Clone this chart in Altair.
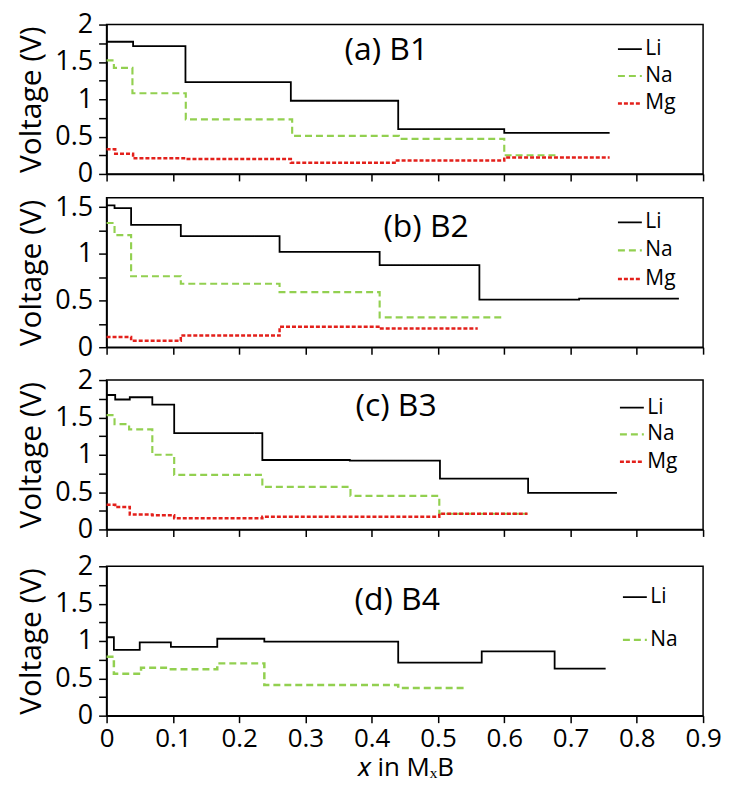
import altair as alt
import pandas as pd

FONT = "Open Sans"
SERIES = ["Li", "Na", "Mg"]
COLORS = {"Li": "#000000", "Na": "#92D050", "Mg": "#E3201B"}
DASHES = {"Li": [1, 0], "Na": [7, 4], "Mg": [4, 2]}
WIDTHS = {"Li": 1.8, "Na": 2.5, "Mg": 1.8}

X_TICKS = [0, 0.1, 0.2, 0.3, 0.4, 0.5, 0.6, 0.7, 0.8, 0.9]

# ---- (a) B1 ----
a_li_x = [0, 0.040, 0.119, 0.278, 0.440, 0.600, 0.759]
a_li_y = [1.77, 1.71, 1.23, 0.98, 0.60, 0.55, 0.55]
a_na_x = [0, 0.011, 0.039, 0.1195, 0.280, 0.441, 0.600, 0.678]
a_na_y = [1.52, 1.42, 1.08, 0.73, 0.51, 0.47, 0.25, 0.25]
a_mg_x = [0, 0.013, 0.040, 0.119, 0.278, 0.438, 0.600, 0.759]
a_mg_y = [0.33, 0.27, 0.21, 0.20, 0.15, 0.18, 0.22, 0.22]

# ---- (b) B2 ----
b_li_x = [0, 0.012, 0.037, 0.112, 0.261, 0.412, 0.5625, 0.713, 0.8635]
b_li_y = [1.52, 1.49, 1.31, 1.19, 1.02, 0.88, 0.51, 0.52, 0.52]
b_na_x = [0, 0.012, 0.037, 0.112, 0.261, 0.412, 0.597]
b_na_y = [1.33, 1.20, 0.76, 0.68, 0.59, 0.32, 0.32]
b_mg_x = [0, 0.037, 0.112, 0.261, 0.412, 0.560]
b_mg_y = [0.11, 0.07, 0.125, 0.22, 0.20, 0.20]

# ---- (c) B3 ----
c_li_x = [0, 0.013, 0.035, 0.069, 0.102, 0.235, 0.367, 0.503, 0.636, 0.770]
c_li_y = [1.80, 1.74, 1.77, 1.67, 1.29, 0.93, 0.92, 0.68, 0.49, 0.49]
c_na_x = [0, 0.012, 0.034, 0.069, 0.102, 0.235, 0.368, 0.502, 0.635]
c_na_y = [1.53, 1.41, 1.34, 1.00, 0.73, 0.57, 0.45, 0.21, 0.21]
c_mg_x = [0, 0.013, 0.035, 0.069, 0.102, 0.235, 0.502, 0.635]
c_mg_y = [0.33, 0.30, 0.20, 0.19, 0.15, 0.17, 0.21, 0.21]

# ---- (d) B4 ----
d_li_x = [0, 0.011, 0.050, 0.097, 0.167, 0.238, 0.440, 0.566, 0.676, 0.753]
d_li_y = [1.05, 0.88, 0.98, 0.92, 1.03, 0.99, 0.71, 0.86, 0.63, 0.63]
d_na_x = [0, 0.011, 0.052, 0.097, 0.167, 0.238, 0.440, 0.544]
d_na_y = [0.79, 0.56, 0.64, 0.62, 0.70, 0.41, 0.37, 0.37]

Y_TICKS_2 = [0, 0.25, 0.5, 0.75, 1, 1.25, 1.5, 1.75, 2]
Y_TICKS_16 = [0, 0.25, 0.5, 0.75, 1, 1.25, 1.5]

W, H = 599, 150


def frame(series):
    rows = []
    for name, xs, ys in series:
        for i, (x, y) in enumerate(zip(xs, ys)):
            rows.append({"x": x, "v": y, "s": name, "o": i})
    return pd.DataFrame(rows)


def panel(series, title, ymax, yticks, lx, ly, rowpad, tx, ty, bottom):
    df = frame(series)
    present = [s for s in SERIES if s in set(df["s"])]
    leg = alt.Legend(
        orient="none", legendX=lx, legendY=ly, title=None,
        symbolType="stroke", symbolSize=576, symbolStrokeWidth=2,
        labelFont=FONT, labelFontSize=21, labelColor="black",
        labelOffset=2, rowPadding=rowpad, padding=0,
    )
    if bottom:
        xaxis = alt.Axis(values=X_TICKS, labelExpr="'' + datum.value",
                         title="𝑥 in MₓB", tickSize=7, grid=False, labelFlush=False,
                         labelFontSize=26, labelPadding=3, titlePadding=3,
                         titleFontSize=26)
    else:
        xaxis = alt.Axis(values=X_TICKS, labels=False, title=None,
                         tickSize=7, grid=False)
    yaxis = alt.Axis(values=yticks,
                     labelExpr="datum.value % 0.5 == 0 ? '' + datum.value : ''",
                     title="Voltage (V)", tickSize=8, grid=False,
                     labelPadding=6, titlePadding=8)
    lines = alt.Chart(df).mark_line(interpolate="step-after").encode(
        x=alt.X("x:Q", scale=alt.Scale(domain=[0, 0.9], nice=False, zero=False), axis=xaxis),
        y=alt.Y("v:Q", scale=alt.Scale(domain=[0, ymax], nice=False), axis=yaxis),
        color=alt.Color("s:N", sort=present,
                        scale=alt.Scale(domain=present, range=[COLORS[s] for s in present]),
                        legend=leg),
        strokeDash=alt.StrokeDash("s:N", sort=present,
                                  scale=alt.Scale(domain=present, range=[DASHES[s] for s in present]),
                                  legend=leg),
        strokeWidth=alt.StrokeWidth("s:N",
                                    scale=alt.Scale(domain=present, range=[WIDTHS[s] for s in present]),
                                    legend=None),
        order="o:Q",
    )
    label = alt.Chart(pd.DataFrame({"t": [title]})).mark_text(
        align="left", baseline="alphabetic", font=FONT, fontSize=32, color="black"
    ).encode(text="t:N", x=alt.value(tx), y=alt.value(ty))
    return alt.layer(lines, label).properties(width=W, height=H)


pa = panel([("Li", a_li_x, a_li_y), ("Na", a_na_x, a_na_y), ("Mg", a_mg_x, a_mg_y)],
           "(a) B1", 2, Y_TICKS_2, 512, 11.7, 3.5, 239, 36, False)
pb = panel([("Li", b_li_x, b_li_y), ("Na", b_na_x, b_na_y), ("Mg", b_mg_x, b_mg_y)],
           "(b) B2", 1.6, Y_TICKS_16, 512, 11.6, 4.7, 278, 39, False)
pc = panel([("Li", c_li_x, c_li_y), ("Na", c_na_x, c_na_y), ("Mg", c_mg_x, c_mg_y)],
           "(c) B3", 2, Y_TICKS_2, 514, 14.6, 3.5, 250, 36, False)
pd_ = panel([("Li", d_li_x, d_li_y), ("Na", d_na_x, d_na_y)],
            "(d) B4", 2, Y_TICKS_2, 517, 18, 19.4, 249, 44, True)

res = dict(color="independent", strokeDash="independent", strokeWidth="independent")
lres = dict(color="independent", strokeDash="independent")

upper = alt.vconcat(pa, pb, spacing=24, bounds="flush").resolve_scale(**res).resolve_legend(**lres)
lower = alt.vconcat(pc, pd_, spacing=37, bounds="flush").resolve_scale(**res).resolve_legend(**lres)

chart = alt.vconcat(upper, lower, spacing=4).resolve_scale(**res).resolve_legend(**lres).properties(
    padding={"left": 8, "top": 0, "right": 0, "bottom": 0}
).configure_axis(
    labelFont=FONT, labelFontSize=27, labelColor="black",
    titleFont=FONT, titleFontSize=30, titleFontWeight="normal", titleColor="black",
    domainColor="black", domainWidth=1.5, tickColor="black", tickWidth=1.5,
).configure_view(
    stroke="black", strokeWidth=1.5
)

chart.save("out.html", embed_options={"renderer": "svg", "actions": False})
